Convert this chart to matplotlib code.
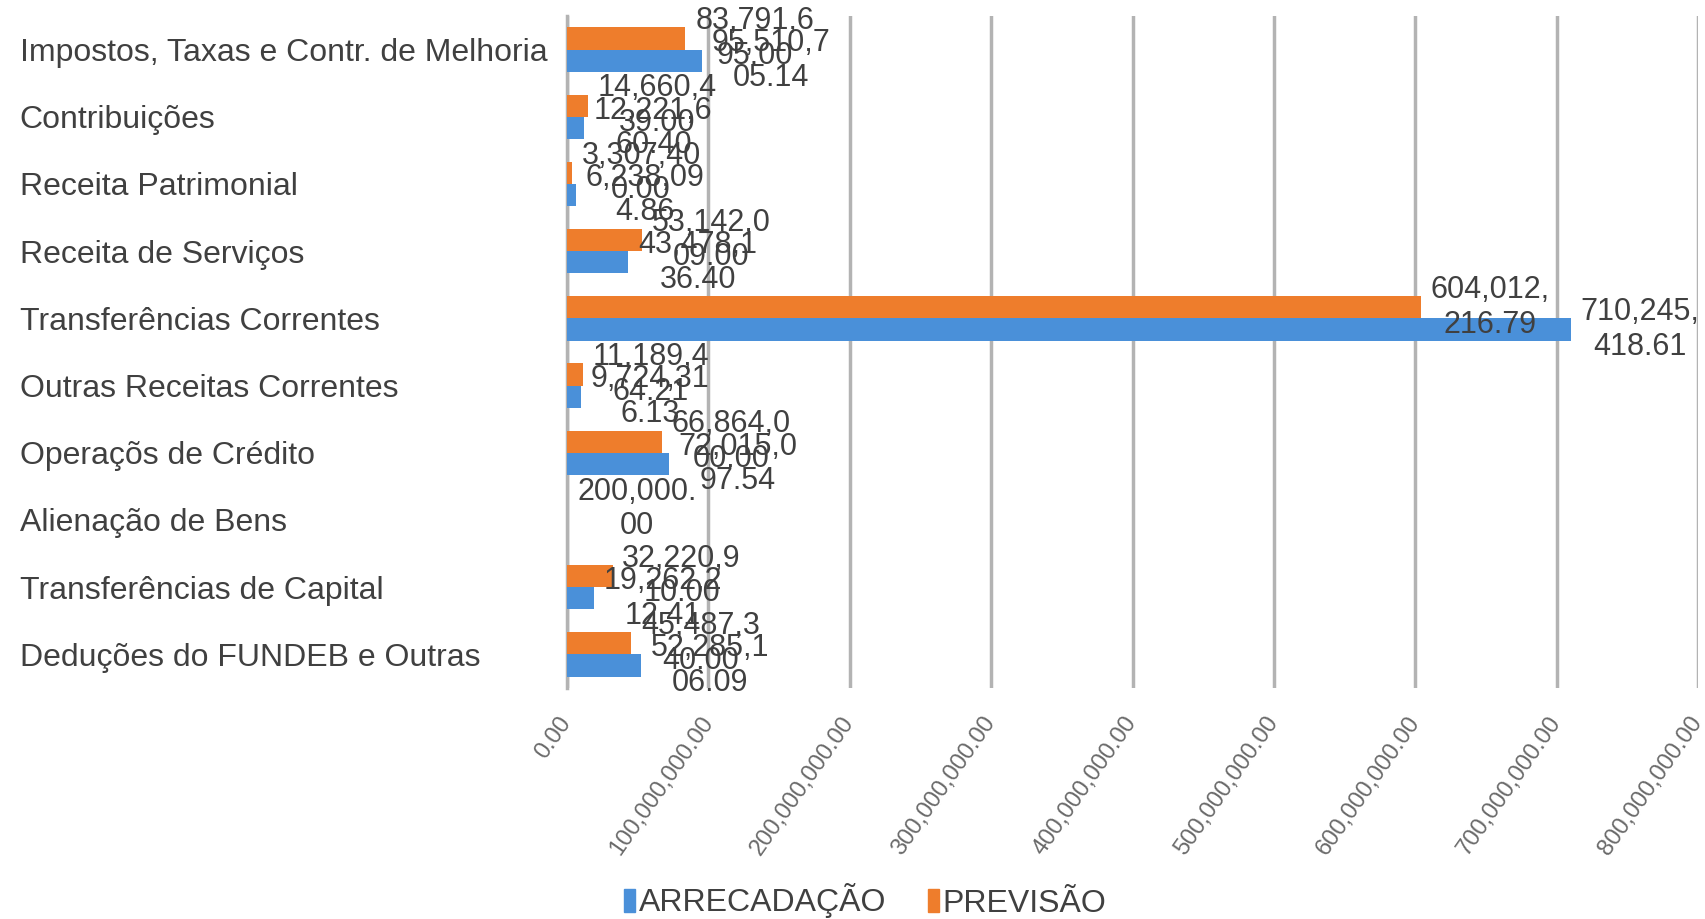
import textwrap
import numpy as np
import matplotlib
matplotlib.use("Agg")
import matplotlib.pyplot as plt
from matplotlib.patches import Patch
from matplotlib.ticker import FuncFormatter

plt.rcParams['font.family'] = ['Liberation Sans', 'DejaVu Sans']

categories = [
    "Impostos, Taxas e Contr. de Melhoria",
    "Contribuições",
    "Receita Patrimonial",
    "Receita de Serviços",
    "Transferências Correntes",
    "Outras Receitas Correntes",
    "Operaçõs de Crédito",
    "Alienação de Bens",
    "Transferências de Capital",
    "Deduções do FUNDEB e Outras",
]
arrecadacao = [95510705.14, 12221660.40, 6238094.86, 43478136.40, 710245418.61,
               9724316.13, 72015097.54, np.nan, 19262212.41, 52285106.09]
previsao = [83791695.00, 14660439.00, 3307400.00, 53142009.00, 604012216.79,
            11189464.21, 66864000.00, 200000.00, 32220910.00, 45487340.00]
x_ticks = [0, 100e6, 200e6, 300e6, 400e6, 500e6, 600e6, 700e6, 800e6]

blue = '#4a90d9'
orange = '#ee7d2c'
text_col = '#404040'

fig = plt.figure(figsize=(17.06, 9.19), dpi=100)
ax = fig.add_axes([567 / 1706, 1 - 688 / 919, (1698 - 567) / 1706, (688 - 16) / 919])

y = np.arange(len(categories))
h = 0.33
ax.barh(y - h / 2, previsao, height=h, color=orange, zorder=3)
ax.barh(y + h / 2, np.nan_to_num(arrecadacao), height=h, color=blue, zorder=3)


def wrap_label(v):
    # excel wraps the data labels in a narrow box
    return "\n".join(textwrap.wrap("{:,.2f}".format(v), 8))


for yy, vals in ((y - h / 2, previsao), (y + h / 2, arrecadacao)):
    for yi, v in zip(yy, vals):
        if np.isnan(v):
            continue
        ax.annotate(wrap_label(v), (v, yi), xytext=(7, 0), textcoords='offset points',
                    ha='left', va='center', multialignment='center',
                    fontsize=22, color=text_col, zorder=5, clip_on=False)

ax.set_xlim(0, 800e6)
ax.set_ylim(len(categories) - 0.5, -0.5)
ax.set_xticks(x_ticks)
ax.xaxis.set_major_formatter(FuncFormatter(lambda v, p: "{:,.2f}".format(v)))
ax.set_yticks(y)
ax.set_yticklabels(categories, ha='left', fontsize=23, color=text_col)
ax.tick_params(axis='y', length=0, pad=394)
ax.tick_params(axis='x', length=0, pad=22, labelsize=17, labelcolor='#6a6a6a')
for lab in ax.get_xticklabels():
    lab.set_rotation(55)
    lab.set_ha('right')
    lab.set_va('center')
    lab.set_rotation_mode('anchor')

ax.grid(axis='x', color='#b3b3b3', linewidth=2.5, zorder=0)
for s in ['top', 'right', 'bottom']:
    ax.spines[s].set_visible(False)
ax.spines['left'].set_color('#b3b3b3')
ax.spines['left'].set_linewidth(2.5)

handles = [Patch(color=blue, label='ARRECADAÇÃO'), Patch(color=orange, label='PREVISÃO')]
fig.legend(handles=handles, loc='center', bbox_to_anchor=(0.507, 1 - 901 / 919), ncol=2,
           frameon=False, fontsize=23, handlelength=0.35, handleheight=0.7,
           handletextpad=0.1, columnspacing=1.3, labelcolor=text_col)

fig.savefig("out.png", dpi=100)
